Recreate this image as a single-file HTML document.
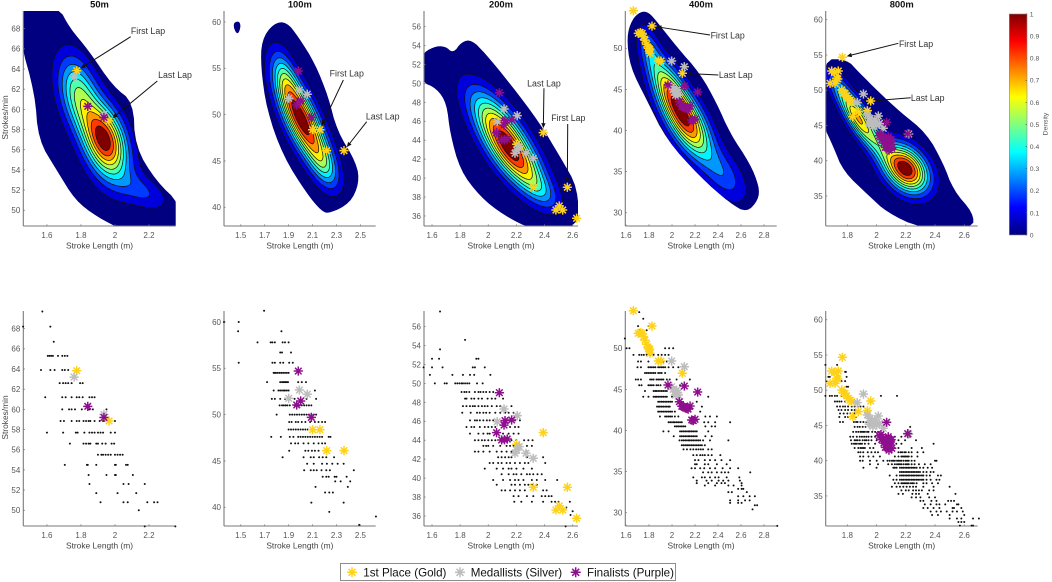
<!DOCTYPE html>
<html lang="en">
<head>
<meta charset="utf-8">
<title>Stroke rate vs stroke length density by race distance</title>
<style>
html,body{margin:0;padding:0;background:#fff;width:1052px;height:582px;overflow:hidden}
svg{position:absolute;left:0;top:0;filter:blur(.35px)}
text{font-family:"Liberation Sans",Arial,sans-serif}
</style>
</head>
<body>
<svg id="chart" xmlns="http://www.w3.org/2000/svg" width="1052" height="582" viewBox="0 0 1052 582">
<defs id="defs"></defs>
<g id="legend">
<rect x="340.5" y="563.5" width="335" height="17" fill="#fff" stroke="#8c8c8c" stroke-width="1"/>
<g>
<path transform="translate(352 572.3)" d="M-5 0H5M0-5V5M-3.5-3.5L3.5 3.5M-3.5 3.5L3.5-3.5" stroke="#ffd21a" stroke-width="1.5" fill="none"/>
<text x="363.3" y="576.4" font-size="11.6" fill="#111">1st Place (Gold)</text>
</g>
<g>
<path transform="translate(460 572.3)" d="M-5 0H5M0-5V5M-3.5-3.5L3.5 3.5M-3.5 3.5L3.5-3.5" stroke="#bdbdbd" stroke-width="1.5" fill="none"/>
<text x="470.7" y="576.4" font-size="11.6" fill="#111">Medallists (Silver)</text>
</g>
<g>
<path transform="translate(575.7 572.3)" d="M-5 0H5M0-5V5M-3.5-3.5L3.5 3.5M-3.5 3.5L3.5-3.5" stroke="#8e0f8e" stroke-width="1.5" fill="none"/>
<text x="587" y="576.4" font-size="11.6" fill="#111">Finalists (Purple)</text>
</g>
</g>
</svg>
<script>
/* ---------- chart values ---------- */
const categories = ['50m','100m','200m','400m','800m'];
const xLimits = [[1.461,2.357],[1.36,2.628],[1.543,2.638],[1.594,2.91],[1.652,2.692]];
const yLimits = [[48.44,69.75],[37.98,61.18],[34.94,57.65],[28.38,54.54],[30.74,61.24]];
const xTicks = [[1.6,1.8,2,2.2],[1.5,1.7,1.9,2.1,2.3,2.5],[1.6,1.8,2,2.2,2.4,2.6],[1.6,1.8,2,2.2,2.4,2.6,2.8],[1.8,2,2.2,2.4,2.6]];
const yTicks = [[50,52,54,56,58,60,62,64,66,68],[40,45,50,55,60],[36,38,40,42,44,46,48,50,52,54,56],[30,35,40,45,50],[35,40,45,50,55,60]];
const colorbarTicks = [0,0.1,0.2,0.3,0.4,0.5,0.6,0.7,0.8,0.9,1];
const densityLevels = [0.091,0.182,0.273,0.364,0.455,0.545,0.636,0.727,0.818,0.909];

/* gaussian density components: weight, centre length, centre rate, sd length, sd rate, correlation */
const densityPeaks = [
 [[1,1.94,57,.085,2.3,-.3],[.62,1.79,61.3,.085,2.7,-.4],[.2,2.17,51.8,.1,1.3,-.5],[.16,2,54,.1,2.2,-.3]],
 [[1,2.01,49.4,.135,3.2,-.72],[.3,2.2,44.6,.09,1.9,-.5],[.28,1.87,54,.08,2.2,-.5]],
 [[1,2.19,42,.15,2.7,-.72],[.82,2.07,45.6,.15,2.8,-.72],[.2,2.38,38.6,.09,1.4,-.6]],
 [[1,2.14,40.8,.14,2.9,-.6],[.75,1.97,45,.12,2.8,-.62],[.3,1.8,50,.07,2,-.5],[.3,2.45,34.6,.14,2.4,-.55]],
 [[1,2.2,38.85,.105,2.3,-.35],[.66,1.875,46.1,.075,2.2,-.65],[.33,2,42.5,.08,2,-.6],[.3,1.75,50,.07,2.2,-.7]]
];

/* outer (lowest density) region outlines */
const outerX = [
 [[1.44,1.667,1.735,1.843,1.99,2.108,2.118,2.245,2.38,2.38,2.049,1.892,1.765,1.657,1.549,1.529,1.44]],
 [[1.675,1.772,1.884,1.981,2.121,2.232,2.302,2.469,2.491,2.413,2.246,2.177,2.051,1.856,1.717,1.667],[1.44,1.48,1.5,1.49,1.47,1.445]],
 [[1.52,1.609,1.692,1.751,1.811,1.882,1.977,2.154,2.368,2.51,2.64,2.64,2.32,2.107,1.941,1.799,1.728,1.704,1.633,1.52]],
 [[1.606,1.65,1.722,1.794,1.881,2.041,2.243,2.389,2.504,2.678,2.759,2.75,2.65,2.504,2.243,1.954,1.78,1.635]],
 [[1.63,1.796,1.875,2.024,2.16,2.343,2.456,2.525,2.662,2.662,2.297,2.069,1.955,1.773,1.704,1.63]]
];
const outerY = [
 [[70.2,70.2,68.04,65.9,62.25,60.76,56.3,52.83,50.7,48,48,49.37,51,54,56.97,61.6,66.9]],
 [[58.05,59.85,60.02,58.4,55.53,51.93,48.34,44.75,42.59,40.43,39.35,39.53,41.5,45.46,50.5,55.17],[59.9,60.1,59.7,59,58.7,59.2]],
 [[53,53.88,53.95,53.18,54.41,54.6,53.2,50.01,45.79,42.26,38.92,34.5,34.5,36.1,38.04,40.86,44.73,47.9,49.48,50.19]],
 [[51.41,53.44,54.45,54.45,53.04,50.2,46.96,43.31,39.66,36,33.16,31.54,30,31.14,34.38,38.84,43.7,47.76]],
 [[54.39,54.39,52.63,49.57,46.96,43.89,39.64,35.85,32.55,30.4,30.4,32.7,34.9,38.45,41.99,45.31]]
];

/* medal markers (stroke length, strokes/min) */
const goldX = [
 [1.775,1.965],
 [2.101,2.162,2.218,2.363],
 [2.391,2.202,2.32,2.562,2.481,2.505,2.529,2.628],
 [1.664,1.826,1.707,1.725,1.741,1.751,1.765,1.78,1.794,1.806,1.809,1.881,1.904,2.09],
 [1.766,1.693,1.712,1.738,1.727,1.682,1.716,1.735,1.762,1.772,1.784,1.795,1.807,1.82,1.83,1.96,1.937,1.875,1.837]
];
const goldY = [
 [63.83,58.85],
 [48.37,48.37,46.11,46.11],
 [44.8,43.57,39.03,39.03,36.63,37.06,36.63,35.76],
 [54.57,52.71,51.82,51.9,51.82,51.4,51,50.5,50,49.9,49.4,48.45,48.45,46.96],
 [54.67,52.73,52.5,52.73,51.69,50.98,50.98,51.6,50.04,49.6,49.57,49.2,48.86,48.6,48.38,48.47,47.1,46.96,46.25]
];
const silverX = [
 [1.76,1.935],
 [1.901,1.99,2.056],
 [2.112,2.206,2.064,2.202,2.22,2.268,2.32,2.19],
 [1.997,2.107,1.997,2.026,2.04,2.055,2.01,2.03,2.05],
 [1.91,1.868,1.937,1.967,2.001,2.012,2.046,1.955,1.989,1.95,1.975,2.02,2.22]
];
const silverY = [
 [63.2,59.5],
 [51.76,52.65,52.2],
 [47.3,46.6,45.96,42.97,43.32,42.62,42.09,42.62],
 [48.45,47.76,45.33,44.72,44.9,44.32,45,44.3,44.6],
 [49.47,48.24,46.49,45.54,45.07,46.35,44.6,46.02,45.78,45.2,44.9,45.3,43.8]
];
const purpleX = [
 [1.84,1.935],
 [1.981,2.001,1.968,2.09],
 [2.079,2.112,2.119,2.166,2.059,2.095,2.135,2.115],
 [1.965,2.107,2.223,2.064,2.085,2.098,2.115,2.128,2.14,2.157,2.171,2.185,2.2],
 [2.069,2.213,2.019,2.035,2.046,2.06,2.068,2.08,2.092,2.104,2.07,2.05,2.095,2.03,2.06,2.085,2.1]
];
const purpleY = [
 [60.3,59.2],
 [54.7,51.47,51.04,49.7],
 [49.02,45.6,46.07,46.14,44.8,44.03,44.13,44.05],
 [45.53,45.41,44.68,43.5,42.95,42.9,42.75,42.7,42.6,42.98,41.28,41.2,41.36],
 [45.45,43.84,43.55,43,43.18,42.9,42.4,43.4,42.23,41.77,41.9,42.5,42.8,43.7,41.9,41.5,43]
];

/* annotations: panel, label, marker pointed at */
const annotationPanels = [0,0,1,1,2,2,3,3,4,4];
const annotationLabels = ['First Lap','Last Lap','First Lap','Last Lap','Last Lap','First Lap','First Lap','Last Lap','First Lap','Last Lap'];
const annotationX = [1.775,1.965,2.162,2.363,2.391,2.562,1.826,2.09,1.766,1.96];
const annotationY = [63.83,58.85,48.37,46.11,44.8,39.03,52.71,46.96,54.67,48.47];

/* scatter dots, by strokes/min row */
const scatterRows50 = [69.7,68.2,66.7,65.3,63.9,62.6,61.2,60,58.85,57.7,56.6,55.5,54.5,53.5,52.6,51.7,50.8,50,48.4];
const scatterX50 = [
 [1.573],[1.46,1.62],[1.64],
 [1.605,1.615,1.625,1.635,1.665,1.69,1.705,1.72],
 [1.565,1.62,1.645,1.69,1.705,1.725],
 [1.675,1.695,1.71,1.725,1.745,1.795,1.81],
 [1.59,1.69,1.71,1.745,1.775,1.79,1.81,1.85,1.865,1.88],
 [1.69,1.73,1.745,1.765,1.805,1.85,1.87,1.95],
 [1.68,1.7,1.745,1.775,1.79,1.815,1.83,1.845,1.855,1.88,1.91,1.93,1.94,1.97,2],
 [1.6,1.695,1.77,1.78,1.82,1.85,1.865,1.88,1.9,1.915,1.93,1.975,2],
 [1.735,1.815,1.83,1.845,1.855,1.89,1.9,1.925,1.945,1.98,1.995],
 [1.9,1.92,1.93,1.945,1.96,1.975,2,2.015,2.03,2.045],
 [1.705,1.835,1.84,1.89,2,2.005,2.065,2.075],
 [1.845,1.95,2,2.005,2.105],
 [1.85,2.05,2.08,2.175],
 [1.89,2.015,2.125],
 [1.915,2.05,2.075,2.19,2.23,2.25],
 [2.14],[2.175,2.355]
];
const scatterRows100 = [61.2,60,59,57.8,56.7,55.6,54.5,53.5,52.6,51.7,51,50,49.2,48.4,47.6,46.9,46.1,45.4,44.7,44,43.3,42.8,42.2,41.6,40.5,39.5,39,38.1];
const scatterX100 = [
 [1.695],[1.36,1.483],[1.478,1.84],
 [1.64,1.75,1.765,1.785,1.85,1.87,1.9],
 [1.83,1.845,1.92],
 [1.483,1.765,1.785,1.83,1.855,1.905,1.935],
 [1.775,1.785,1.795,1.81,1.825,1.84,1.855,1.87,1.885,1.9],
 [1.72,1.83,1.845,1.855,1.865,1.875,1.885,1.895,1.98,2.01,2.045],
 [1.775,1.815,1.83,1.845,1.86,1.87,1.885,1.9,2.12],
 [1.76,1.785,1.83,1.87,1.91,1.95,2.05,2.13],
 [1.825,1.845,1.86,1.875,1.89,1.91,1.95,1.97,1.99,2.01,2.03,2.05,2.07,2.09],
 [1.8,1.91,1.93,1.95,1.97,1.99,2.01,2.03,2.05,2.07,2.09,2.11,2.13],
 [1.905,1.925,1.96,1.98,2.01,2.04,2.08,2.12,2.15,2.18,2.205],
 [1.9,1.92,1.94,1.96,1.98,2,2.02,2.04,2.06],
 [1.755,1.835,1.91,1.94,1.98,2,2.02,2.04,2.06,2.08,2.1,2.12,2.14,2.16,2.18,2.235,2.25],
 [1.92,1.955,1.98,2.025,2.065,2.11,2.15,2.18,2.205],
 [1.905,2.04,2.065,2.095,2.12,2.15],
 [1.85,2.025,2.085,2.11,2.155,2.185,2.215,2.28],
 [2.055,2.11,2.18,2.22,2.265,2.31,2.36],
 [2.03,2.085,2.11,2.135,2.175,2.215,2.245,2.445],
 [2.185,2.215,2.235,2.285,2.3,2.385],
 [2.29,2.335,2.415],
 [2.125,2.395],
 [2.205,2.24,2.27],
 [2.09,2.36],[2.24],[2.63],[2.49]
];
const scatterRows200 = [57.6,54.6,53.6,52.6,51.7,50.9,50,49.1,48.4,47.6,46.9,46.1,45.4,44.7,44,43.4,42.8,42.2,41.6,41,40.4,39.8,39.3,38.7,38.1,37.5,36.9,36.5,36.1,34.9];
const scatterX200 = [
 [1.657],[1.835],[1.657],
 [1.6,1.65,1.915,1.93],
 [1.54,1.6,1.675,1.89,1.905,1.975],
 [1.585,1.745,1.82,1.87,1.9,2.015],
 [1.62,1.69,1.705,1.765,1.78,1.795,1.81,1.82,1.835,1.85,1.865,1.92,1.96],
 [1.81,1.83,1.845,1.865,1.905,1.93,1.945,1.965,1.985,2.01,2.035],
 [1.835,1.845,1.88,1.9,1.93,1.955,1.995,2.025,2.05,2.105],
 [1.82,1.845,1.87,1.89,1.905,1.93,1.955,1.975,1.995,2.025,2.06,2.085,2.165],
 [1.815,1.875,1.92,1.94,1.965,1.985,2.01,2.05,2.085,2.12,2.145,2.18],
 [1.87,1.905,1.92,1.94,1.965,1.99,2.01,2.035,2.06,2.19,2.225],
 [1.845,1.88,1.9,1.94,1.975,2,2.025,2.05,2.155,2.19,2.215],
 [1.87,1.93,1.965,1.995,2.01,2.105,2.145,2.18,2.215],
 [1.905,1.93,1.955,1.975,2,2.025,2.05,2.165,2.2,2.255,2.285,2.315],
 [1.965,1.985,2,2.035,2.085,2.13,2.155,2.18,2.275,2.31],
 [1.905,1.93,1.965,2.01,2.06,2.095,2.13,2.165,2.275],
 [2.07,2.095,2.12,2.145,2.165,2.275,2.39],
 [2.01,2.035,2.07,2.095,2.13,2.155,2.19,2.225,2.26,2.285,2.405],
 [1.975,2.06,2.105,2.145,2.165,2.2,2.25,2.31],
 [2.095,2.145,2.18,2.2,2.235,2.275,2.295,2.32,2.35,2.38],
 [2.035,2.105,2.155,2.19,2.215,2.25,2.31,2.345,2.405,2.49],
 [2.06,2.165,2.19,2.225,2.26,2.285,2.31,2.345],
 [2.095,2.12,2.155,2.19,2.225,2.26,2.39,2.415],
 [2.18,2.215,2.275,2.32,2.38,2.405,2.43,2.45],
 [2.185,2.235,2.31,2.39,2.45,2.475,2.5,2.58],
 [2.555],[2.6],[2.585],[2.55]
];
const scatterRows400 = [54.4,53.6,52.7,52.2,51.2,50,49.2,48.4,47.7,47,46.2,45.5,44.8,44.1,43.5,42.9,42.3,41.7,41,40.5,39.9,39.3,38.8,38.2,37.7,37,36.4,35.9,35.4,34.9,34.3,33.9,33.6,33.3,32.9,32.5,32,31.5,31.2,30.9,30.4,28.4];
const scatterX400 = [
 [1.715],[1.75],[1.705,1.795],[1.715,1.78],[1.59],
 [1.605,1.63,1.765,1.94,1.975,2.01],
 [1.665,1.715,1.735,1.755,1.78,1.81,1.84,1.88,1.91,1.94,1.97],
 [1.705,1.73,1.795,1.925,1.955],
 [1.7,1.73,1.795,1.81,1.825,1.84,1.855,1.88,1.895,1.91,1.925,1.94,1.97,2.01,2.055],
 [1.765,1.78,1.795,1.81,1.825,1.84,1.855,1.88,1.895,1.91,1.94],
 [1.685,1.705,1.73,1.81,1.825,1.84,1.865,1.88,1.895,1.91,1.925,1.955,1.98,2.04,2.155],
 [1.715,1.735,1.795,1.81,1.825,1.84,1.865,1.88,1.9,2.07],
 [1.765,1.84,1.855,1.865,1.88,1.895,1.91,1.925,1.94,1.955],
 [1.75,1.795,1.84,1.855,1.865,1.88,1.895,1.91,1.925,1.94,1.955,2,2.315],
 [1.88,1.895,1.91,1.925,1.94,1.955,1.97,1.985,2,2.215],
 [1.87,1.885,1.895,1.91,1.925,1.94,1.955,1.97,1.98,2.26],
 [1.88,1.895,1.91,1.925,1.94,1.955,1.97,1.985,2,2.025,2.245],
 [1.895,1.94,1.955,1.97,1.985,2,2.025,2.055,2.29,2.33,2.39],
 [1.97,1.985,2,2.015,2.025,2.04,2.055,2.07,2.085,2.28,2.315,2.375,2.505],
 [2.025,2.04,2.055,2.07,2.085,2.1,2.115,2.29,2.345,2.375],
 [1.925,1.97,2.07,2.085,2.1,2.115,2.13,2.145,2.155,2.17,2.185,2.2,2.215,2.315],
 [2.015,2.07,2.085,2.1,2.115,2.13,2.145,2.155,2.17,2.185,2.2,2.215,2.29,2.345],
 [2.065,2.085,2.1,2.115,2.13,2.145,2.155,2.17,2.185,2.2,2.215,2.23,2.245,2.27,2.33,2.49],
 [2.085,2.1,2.115,2.13,2.14,2.155,2.17,2.185,2.2,2.215,2.23,2.245,2.26,2.285],
 [2.1,2.13,2.16,2.185,2.21,2.23,2.25,2.27,2.315,2.345],
 [2.185,2.215,2.245,2.265,2.285,2.315,2.345,2.42],
 [2.2,2.23,2.285,2.33,2.375,2.43,2.505],
 [2.2,2.215,2.285,2.315,2.39,2.475],
 [2.17,2.2,2.245,2.28,2.33,2.375,2.44,2.505,2.575],
 [2.27,2.315,2.345,2.39,2.43,2.46,2.49,2.68],
 [2.185,2.26,2.285,2.33,2.375,2.405,2.475,2.585],
 [2.215,2.3,2.345,2.405,2.445,2.49,2.59],
 [2.215,2.315,2.39,2.43,2.46,2.605],
 [2.285,2.375,2.49,2.535,2.605],
 [2.575,2.605,2.62],
 [2.49,2.52,2.65],
 [2.575,2.62,2.675,2.72],
 [2.505,2.575,2.635,2.675],
 [2.505,2.575,2.605],
 [2.72,2.74],[2.7],[2.915]
];
const scatterRows800 = [53.6,52.6,51.9,51.3,50.5,50,49.2,48.4,47.7,47.2,46.7,46.2,45.5,44.8,44.1,43.4,42.9,42.4,41.8,41.2,40.6,40,39.5,39,38.4,37.9,37.3,36.8,36.3,35.8,35.3,34.8,34.3,33.8,33.3,32.8,32.3,31.8,31.3,30.8];
const scatterX800 = [
 [1.65,1.73],[1.785,1.79],[1.67,1.68,1.795],[1.66,1.76,1.785],[1.795,1.805],[1.76,1.78],
 [1.65,1.68,1.695,1.715,1.73,1.76,2.03,2.14],
 [1.715,1.73,1.745,1.76,1.785,1.81],
 [1.73,1.75,1.77,1.785,1.805,1.83,1.85,1.87,1.89,1.91],
 [1.74,1.76,1.785,1.805,1.83,1.85],
 [1.75,1.775,1.8,1.82,1.85],
 [1.745,1.785,1.805,1.83,1.86],
 [1.75,1.77,1.845,1.86,1.87,1.89,1.91,1.93],
 [1.85,1.87,1.885,1.905,1.925,1.95,2.23],
 [1.84,1.86,1.875,1.89,1.9,1.91,1.92,1.935,1.945,1.97,1.99,2.01,2.23],
 [1.82,1.84,1.865,1.885,1.9,1.915,1.93,1.945,1.965,1.99,2.125,2.17,2.23],
 [1.825,1.85,1.86,1.87,1.885,1.905,1.92,1.93,1.945,1.965,2,2.15,2.195,2.27],
 [1.83,1.845,1.855,1.865,1.88,1.89,1.9,1.92,1.945,1.99,2.135,2.17,2.39],
 [1.85,1.875,1.89,1.9,1.91,1.92,1.955,1.978,2.125,2.15,2.24,2.31],
 [1.875,1.89,1.909,1.94,1.965,1.99,2.01,2.15,2.165,2.175,2.19,2.2,2.22,2.24,2.28,2.32],
 [1.887,1.909,1.945,1.978,2.023,2.125,2.15,2.17,2.18,2.19,2.2,2.21,2.22,2.24,2.28],
 [1.887,1.905,1.955,2.001,2.046,2.075,2.09,2.105,2.115,2.125,2.14,2.15,2.16,2.17,2.185,2.2,2.21,2.22,2.24,2.26,2.4,2.41],
 [1.955,2.01,2.08,2.105,2.125,2.14,2.15,2.16,2.17,2.185,2.2,2.21,2.22,2.24,2.26,2.29,2.33,2.37],
 [1.91,2,2.115,2.125,2.137,2.16,2.172,2.183,2.195,2.206,2.217,2.228,2.24,2.251,2.262,2.274,2.297,2.32,2.35,2.38],
 [2.16,2.172,2.183,2.195,2.206,2.217,2.228,2.24,2.251,2.262,2.274,2.285,2.297,2.32,2.342,2.37,2.39],
 [2.09,2.137,2.16,2.172,2.183,2.195,2.206,2.217,2.228,2.24,2.251,2.262,2.274,2.285,2.297,2.31,2.32,2.342,2.365,2.42,2.44],
 [2.115,2.137,2.16,2.172,2.183,2.195,2.206,2.217,2.228,2.24,2.251,2.262,2.274,2.285,2.297,2.31,2.32,2.342,2.37,2.41,2.43],
 [2.125,2.15,2.17,2.18,2.19,2.2,2.21,2.22,2.235,2.245,2.255,2.274,2.32,2.342,2.38,2.42],
 [2.105,2.137,2.16,2.183,2.206,2.228,2.25,2.27,2.32,2.39,2.5],
 [2.17,2.2,2.22,2.25,2.27,2.29,2.31,2.36,2.39],
 [2.15,2.18,2.245,2.27,2.29,2.35,2.54],
 [2.24,2.27,2.3,2.36,2.4],
 [2.3,2.32,2.375,2.41,2.49,2.51,2.53],
 [2.33,2.37,2.41,2.43,2.47,2.55,2.56],
 [2.32,2.35,2.39,2.43,2.52,2.58,2.53],
 [2.37,2.41,2.44,2.48,2.52,2.55,2.59],
 [2.38,2.42,2.5,2.6],
 [2.5,2.55,2.58,2.66,2.7],
 [2.56,2.58,2.6],
 [2.57,2.65,2.66]
];
const scatterRows = [scatterRows50,scatterRows100,scatterRows200,scatterRows400,scatterRows800];
const scatterX = [scatterX50,scatterX100,scatterX200,scatterX400,scatterX800];

/* ---------- layout (pixels, not data) ---------- */
const plotLeft = [23.3,224,424,625.3,825.7];
const plotRight = [175.7,375.7,578,776.7,977.7];
const rowTop = [11,311];
const rowBottom = [226,526];
const annotationTailOffset = [[54,-34],[48.3,-40],[23.4,-49.7],[22.7,-29],[.7,-44.4],[.4,-63.3],[58,9],[36,1.7],[56,-14],[40,-3.3]];
const annotationTextOffset = [[71.3,-39.7],[66,-46],[26.8,-56],[38.7,-34],[.7,-49.4],[1,-69.3],[75.7,9.7],[53.4,1.7],[73.7,-13.3],[57,-3]];

/* ---------- helpers ---------- */
const NS = 'http://www.w3.org/2000/svg';
const root = document.getElementById('chart');
const defs = document.getElementById('defs');
const legendNode = document.getElementById('legend');
function make(tag, attrs, parent){
  const el = document.createElementNS(NS, tag);
  for(const k in attrs) el.setAttribute(k, attrs[k]);
  (parent || root).appendChild(el);
  return el;
}
function jet(v){
  const r = Math.max(0, Math.min(1, Math.min(4*v-1.5, -4*v+4.5)));
  const g = Math.max(0, Math.min(1, Math.min(4*v-0.5, -4*v+3.5)));
  const b = Math.max(0, Math.min(1, Math.min(4*v+0.5, -4*v+2.5)));
  return 'rgb('+Math.round(r*255)+','+Math.round(g*255)+','+Math.round(b*255)+')';
}
function scaleX(p){
  const a = xLimits[p];
  return v => plotLeft[p] + (v-a[0])/(a[1]-a[0])*(plotRight[p]-plotLeft[p]);
}
function scaleY(p, row){
  const a = yLimits[p];
  return v => rowBottom[row] - (v-a[0])/(a[1]-a[0])*(rowBottom[row]-rowTop[row]);
}
function chaikin(pts, n){
  for(let k=0;k<n;k++){
    const out=[];
    for(let i=0;i<pts.length;i++){
      const a=pts[i], b=pts[(i+1)%pts.length];
      out.push([a[0]*.75+b[0]*.25,a[1]*.75+b[1]*.25],[a[0]*.25+b[0]*.75,a[1]*.25+b[1]*.75]);
    }
    pts=out;
  }
  return pts;
}
function pathOf(pts){
  return 'M'+pts.map(q=>q[0].toFixed(1)+' '+q[1].toFixed(1)).join('L')+'Z';
}
function densityAt(p, x, y){
  let s = 0;
  for(const c of densityPeaks[p]){
    const dx=(x-c[1])/c[3], dy=(y-c[2])/c[4], r=c[5];
    s += c[0]*Math.exp(-.5/(1-r*r)*(dx*dx-2*r*dx*dy+dy*dy));
  }
  return s;
}
/* marching squares: closed loops of the level set, padded grid guarantees closure */
function contourLoops(grid, nx, ny, level, x0, y0, step){
  const links = new Map(), pos = new Map();
  function addLink(a,b){
    if(!links.has(a)) links.set(a,[]);
    if(!links.has(b)) links.set(b,[]);
    links.get(a).push(b); links.get(b).push(a);
  }
  const at=(i,j)=>grid[j*nx+i];
  for(let j=0;j<ny-1;j++) for(let i=0;i<nx-1;i++){
    const a=at(i,j),b=at(i+1,j),c=at(i+1,j+1),d=at(i,j+1);
    const hits=[];
    function edge(v1,v2,id,px1,py1,px2,py2){
      if((v1>=level)!==(v2>=level)){
        const t=(level-v1)/(v2-v1);
        pos.set(id,[x0+(px1+(px2-px1)*t)*step,y0+(py1+(py2-py1)*t)*step]);
        hits.push(id);
      }
    }
    edge(a,b,2*(j*nx+i),i,j,i+1,j);
    edge(b,c,2*(j*nx+i+1)+1,i+1,j,i+1,j+1);
    edge(d,c,2*((j+1)*nx+i),i,j+1,i+1,j+1);
    edge(a,d,2*(j*nx+i)+1,i,j,i,j+1);
    if(hits.length>=2) addLink(hits[0],hits[1]);
    if(hits.length===4) addLink(hits[2],hits[3]);
  }
  const seen=new Set(), loops=[];
  for(const start of links.keys()){
    if(seen.has(start)) continue;
    const loop=[]; let prev=null, cur=start;
    while(cur!==undefined && !seen.has(cur)){
      seen.add(cur); loop.push(pos.get(cur));
      const nb=links.get(cur);
      const next = nb[0]!==prev ? nb[0] : nb[1];
      prev=cur; cur=next;
    }
    if(loop.length>2) loops.push(loop);
  }
  return loops;
}
function axisFrame(g, p, row){
  const sx=scaleX(p), sy=scaleY(p,row);
  const L=plotLeft[p], R=plotRight[p], T=rowTop[row], B=rowBottom[row];
  const yAxis = make('line',{x1:L,y1:T,x2:L,y2:B,stroke:'#7a7a7a','stroke-width':1.1},g);
  
  
  const xAxis = make('line',{x1:L,y1:B,x2:R,y2:B,stroke:'#7a7a7a','stroke-width':1.1},g);
  
  
  xTicks[p].forEach(v=>{
    const tick = make('line',{x1:sx(v),y1:B,x2:sx(v),y2:B-1.6,stroke:'#7a7a7a','stroke-width':.8},g);
    
    
    const label = make('text',{x:sx(v),y:B+11.8,'font-size':8,fill:'#555','text-anchor':'middle'},g);
    
    
    label.textContent=v;
  });
  yTicks[p].forEach(v=>{
    const tick = make('line',{x1:L,y1:sy(v),x2:L+1.6,y2:sy(v),stroke:'#7a7a7a','stroke-width':.8},g);
    
    
    const label = make('text',{x:L-3,y:sy(v)+2.9,'font-size':8,fill:'#555','text-anchor':'end'},g);
    
    
    label.textContent=v;
  });
  const xTitle = make('text',{x:(L+R)/2,y:B+22.6,'font-size':8.4,fill:'#444','text-anchor':'middle'},g);
  
  
  xTitle.textContent='Stroke Length (m)';
  if(p===0){
    const yc=(T+B)/2-1;
    const yTitle = make('text',{x:8,y:yc,'font-size':8.4,fill:'#444','text-anchor':'middle',transform:'rotate(-90 8 '+yc+')'},g);
    
    
    yTitle.textContent='Strokes/min';
  }
}
function drawMarkers(g, p, row, xs, ys, color, name){
  const sx=scaleX(p), sy=scaleY(p,row);
  xs[p].forEach((v,i)=>{
    const star = make('path',{
      transform:'translate('+sx(v).toFixed(2)+' '+sy(ys[p][i]).toFixed(2)+')',
      d:'M-4.6 0H4.6M0-4.6V4.6M-3.3-3.3L3.3 3.3M-3.3 3.3L3.3-3.3',
      stroke:color,'stroke-width':1.5,fill:'none'},g);
    
    
  });
}
function drawAllMarkers(g,p,row){
  drawMarkers(g,p,row,goldX,goldY,'#ffd21a','gold-marker');
  drawMarkers(g,p,row,silverX,silverY,'#bdbdbd','silver-marker');
  drawMarkers(g,p,row,purpleX,purpleY,'#8e0f8e','purple-marker');
}

/* ---------- density row ---------- */
categories.forEach((name,p)=>{
  const g = make('g',{},root);
  
  
  const sx=scaleX(p), sy=scaleY(p,0);
  const L=plotLeft[p], R=plotRight[p], T=rowTop[0], B=rowBottom[0];

  const rectClip = make('clipPath',{id:'plot-clip-'+p},defs);
  make('rect',{x:L,y:T,width:R-L,height:B-T},rectClip);

  const outerD = outerX[p].map((xs,k)=>pathOf(chaikin(xs.map((v,i)=>[sx(v),sy(outerY[p][k][i])]),2))).join('');
  const outlineClip = make('clipPath',{id:'outline-clip-'+p},defs);
  make('path',{d:outerD},outlineClip);

  const clipped = make('g',{'clip-path':'url(#plot-clip-'+p+')'},g);
  
  
  const outer = make('path',{d:outerD,fill:jet(0)},clipped);
  
  

  const inner = make('g',{'clip-path':'url(#outline-clip-'+p+')'},clipped);
  const step=1.5, x0=L-4.5, y0=T-4.5;
  const nx=Math.ceil((R-L+9)/step)+1, ny=Math.ceil((B-T+9)/step)+1;
  const grid=new Float64Array(nx*ny);
  const xr=xLimits[p], yr=yLimits[p];
  let peak=0;
  for(let j=0;j<ny;j++) for(let i=0;i<nx;i++){
    const px=x0+i*step, py=y0+j*step;
    const dx=xr[0]+(px-L)/(R-L)*(xr[1]-xr[0]);
    const dy=yr[0]+(B-py)/(B-T)*(yr[1]-yr[0]);
    const v=densityAt(p,dx,dy);
    grid[j*nx+i]=v;
    if(v>peak) peak=v;
  }
  for(let k=0;k<grid.length;k++) grid[k]/=peak;
  for(let i=0;i<nx;i++){grid[i]=-1;grid[(ny-1)*nx+i]=-1;}
  for(let j=0;j<ny;j++){grid[j*nx]=-1;grid[j*nx+nx-1]=-1;}
  densityLevels.forEach((lev,li)=>{
    const loops=contourLoops(grid,nx,ny,lev,x0,y0,step);
    if(!loops.length) return;
    const band = make('path',{
      d:loops.map(pathOf).join(''),
      fill:li===densityLevels.length-1?'#800000':jet((li+1)/11),
      'fill-rule':'evenodd',stroke:'#111','stroke-width':.7},inner);
    
    
  });

  axisFrame(g,p,0);
  const title = make('text',{x:(L+R)/2,y:7.6,'font-size':9.4,'font-weight':'bold',fill:'#111','text-anchor':'middle'},g);
  
  
  title.textContent=name;
  drawAllMarkers(g,p,0);
});

/* ---------- annotations ---------- */
annotationLabels.forEach((label,i)=>{
  const p=annotationPanels[i];
  const mx=scaleX(p)(annotationX[i]), my=scaleY(p,0)(annotationY[i]);
  const tail=[mx+annotationTailOffset[i][0],my+annotationTailOffset[i][1]];
  const dx=mx-tail[0], dy=my-tail[1], len=Math.hypot(dx,dy), ux=dx/len, uy=dy/len;
  const tip=[mx-ux*4.5,my-uy*4.5];
  const g=make('g',{},root);
  
  
  const line = make('line',{x1:tail[0],y1:tail[1],x2:tip[0]-ux*3,y2:tip[1]-uy*3,stroke:'#111','stroke-width':1},g);
  
  
  const head = make('polygon',{points:[tip,[tip[0]-ux*5-uy*2.2,tip[1]-uy*5+ux*2.2],[tip[0]-ux*5+uy*2.2,tip[1]-uy*5-ux*2.2]].map(q=>q.join(',')).join(' '),fill:'#111'},g);
  
  
  const text = make('text',{x:mx+annotationTextOffset[i][0],y:my+annotationTextOffset[i][1]+3,'font-size':8.8,fill:'#333','text-anchor':'middle'},g);
  
  
  text.textContent=label;
});

/* ---------- colorbar ---------- */
(function(){
  const grad=make('linearGradient',{id:'jet-grad',x1:0,y1:1,x2:0,y2:0},defs);
  for(let i=0;i<=32;i++){
    make('stop',{offset:i/32,'stop-color':jet(i/32)},grad);
  }
  const g=make('g',{},root);
  
  
  const cbTop=14, cbBottom=235, cbLeft=1009.3, cbRight=1027;
  const bar=make('rect',{x:cbLeft,y:cbTop,width:cbRight-cbLeft,height:cbBottom-cbTop,fill:'url(#jet-grad)',stroke:'#8a8a8a','stroke-width':.6},g);
  
  
  colorbarTicks.forEach(v=>{
    const y=cbBottom-v*(cbBottom-cbTop);
    const tick=make('line',{x1:cbRight-1.5,y1:y,x2:cbRight,y2:y,stroke:'#555','stroke-width':.6},g);
    
    
    const t=make('text',{x:cbRight+2.8,y:y+2.4,'font-size':6.8,fill:'#555'},g);
    
    
    t.textContent=v;
  });
  const title=make('text',{x:1047.5,y:124,'font-size':6.8,fill:'#555','text-anchor':'middle',transform:'rotate(-90 1047.5 124)'},g);
  
  
  title.textContent='Density';
})();

/* ---------- scatter row ---------- */
categories.forEach((name,p)=>{
  const g=make('g',{},root);
  
  
  const sx=scaleX(p), sy=scaleY(p,1);
  axisFrame(g,p,1);
  scatterRows[p].forEach((rate,r)=>{
    (scatterX[p][r]||[]).forEach(len=>{
      const dot=make('circle',{cx:sx(len).toFixed(2),cy:sy(rate).toFixed(2),r:1,fill:'#111'},g);
      
      
    });
  });
  drawAllMarkers(g,p,1);
});
root.appendChild(legendNode);
</script>
</body>
</html>
